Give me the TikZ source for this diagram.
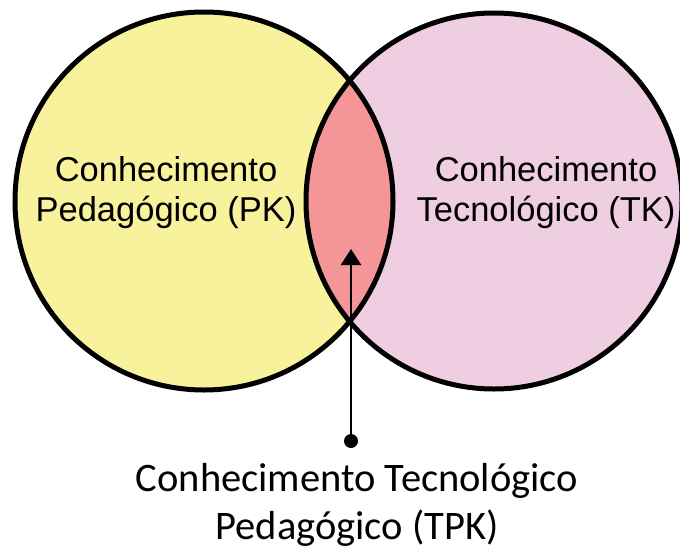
\documentclass[tikz,border=0pt]{standalone}
\usepackage{fontspec}
\setmainfont{Liberation Sans}
\newfontfamily\tpkfont{Carlito}
\usetikzlibrary{arrows.meta}
\definecolor{pkyellow}{RGB}{247,242,155}
\definecolor{tkpink}{RGB}{240,206,226}
\definecolor{tpkred}{RGB}{244,150,152}

\begin{document}
\begin{tikzpicture}[x=1pt,y=-1pt]
\tikzstyle{ring}=[line width=5pt]
\tikzstyle{areatext}=[align=center,font=\fontsize{34.5}{40}\selectfont]
\useasboundingbox (0,0) rectangle (680,552);
\clip (0,0) rectangle (680,552);
% the two sets
\fill[pkyellow] (204,201) circle (189);
\fill[tkpink] (494,201) circle (188);
\begin{scope}
\clip (204,201) circle (189);
\fill[tpkred] (494,201) circle (188);
\end{scope}
\draw[ring] (204,201) circle (189);
\draw[ring] (494,201) circle (188);
\node[areatext] (pk) at (166,193) {Conhecimento\\Pedagógico (PK)};
\node[areatext] (tk) at (546,193) {Conhecimento\\Tecnológico (TK)};
% pointer to the intersection
\node[align=center,font=\tpkfont\fontsize{40.5}{48}\selectfont] (tpk) at (357,505) {Conhecimento Tecnológico\\Pedagógico (TPK)};
\node[circle,fill,inner sep=0,minimum size=14] (dot) at (351,441) {};
\coordinate (tip) at (351,249);
\draw[line width=2.5,-{Triangle[length=16pt,width=20pt]}] (dot) -- (tip);
\end{tikzpicture}
\end{document}
